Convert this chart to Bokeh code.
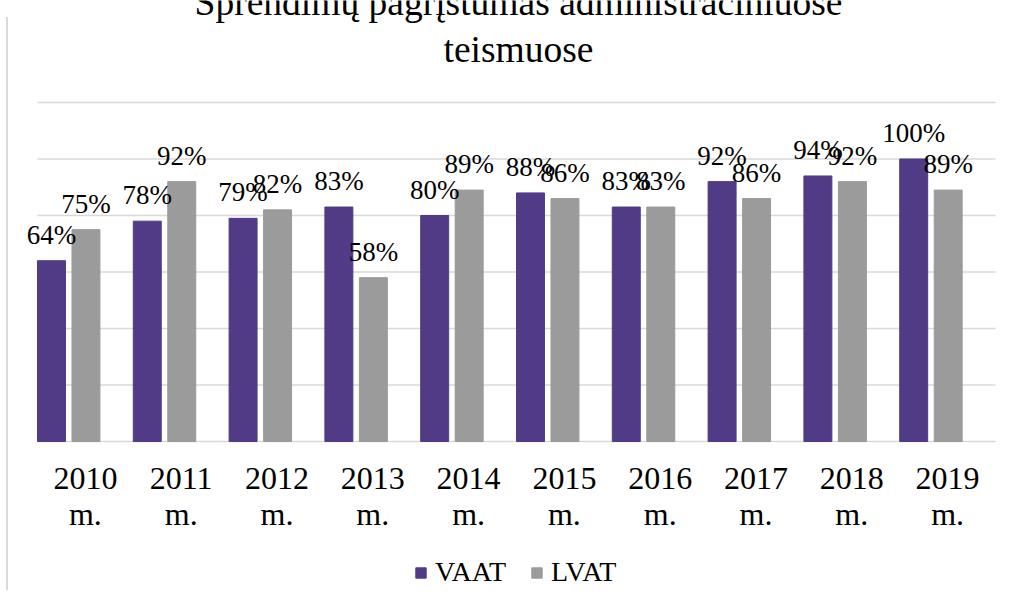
from bokeh.plotting import figure
from bokeh.models import (ColumnDataSource, FactorRange, Range1d, Label,
                          Legend, LegendItem)
from bokeh.transform import dodge
from bokeh.core.properties import value
from bokeh.embed import file_html
from bokeh.resources import INLINE

years = ["2010 m.", "2011 m.", "2012 m.", "2013 m.", "2014 m.",
         "2015 m.", "2016 m.", "2017 m.", "2018 m.", "2019 m."]
vaat = [0.64, 0.78, 0.79, 0.83, 0.80, 0.88, 0.83, 0.92, 0.94, 1.00]
lvat = [0.75, 0.92, 0.82, 0.58, 0.89, 0.86, 0.83, 0.86, 0.92, 0.89]
series_names = ["VAAT", "LVAT"]
title_lines = ["Sprendimų pagrįstumas administraciniuose", "teismuose"]
grid_ticks = [0, 0.2, 0.4, 0.6, 0.8, 1.0, 1.2]

PURPLE = "#513B87"
GRAY = "#9B9B9B"
GRID = "#D9D9D9"
FONT = "Liberation Serif"

src = ColumnDataSource(dict(
    cat=years,
    vaat=vaat,
    lvat=lvat,
    vaat_lbl=[f"{round(v*100)}%" for v in vaat],
    lvat_lbl=[f"{round(v*100)}%" for v in lvat],
    tick1=[y.split(" ")[0] for y in years],
    tick2=[y.split(" ")[1] for y in years],
    zero=[0] * len(years),
))
grid_src = ColumnDataSource(dict(
    y=grid_ticks,
    x0=[years[0]] * len(grid_ticks),
    x1=[years[-1]] * len(grid_ticks),
))

p = figure(width=1009, height=590, output_backend="svg", toolbar_location=None,
           x_range=FactorRange(factors=years, range_padding=0.146,
                               range_padding_units="absolute"),
           y_range=Range1d(-0.5274, 1.5611),
           min_border_left=23, min_border_right=0,
           min_border_top=0, min_border_bottom=0)
p.outline_line_color = None
p.background_fill_color = "white"
p.border_fill_color = None
p.title.visible = False
p.xaxis.visible = False
p.yaxis.visible = False
p.xgrid.grid_line_color = None
p.ygrid.grid_line_color = None
p.styles = {
    "background-color": "white",
    "background-image": "linear-gradient(#D9D9D9, #D9D9D9)",
    "background-size": "2px 573px",
    "background-position": "6px 17px",
    "background-repeat": "no-repeat",
}

# horizontal gridlines spanning the category band
p.segment(x0=dodge("x0", -0.5, range=p.x_range), x1=dodge("x1", 0.5, range=p.x_range),
          y0="y", y1="y", source=grid_src, line_color=GRID, line_width=1.5)

r1 = p.vbar(x=dodge("cat", -0.354, range=p.x_range), top="vaat", width=0.292,
            source=src, fill_color=PURPLE, line_color=PURPLE)
r2 = p.vbar(x=dodge("cat", 0.006, range=p.x_range), top="lvat", width=0.292,
            source=src, fill_color=GRAY, line_color=GRAY)

for off, col in [(-0.354, "vaat"), (0.006, "lvat")]:
    p.text(x=dodge("cat", off, range=p.x_range), y=col, text=col + "_lbl", source=src,
           text_align="center", text_baseline="alphabetic", y_offset=-26,
           text_font=value(FONT), text_font_size="27px", text_color="black")

# category labels (two lines) under the baseline
p.text(x="cat", y="zero", text="tick1", source=src, text_align="center",
       text_baseline="alphabetic", y_offset=37,
       text_font=value(FONT), text_font_size="32px", text_color="black")
p.text(x="cat", y="zero", text="tick2", source=src, text_align="center",
       text_baseline="alphabetic", y_offset=72,
       text_font=value(FONT), text_font_size="32px", text_color="black")

legend = Legend(items=[LegendItem(label=series_names[0], renderers=[r1]),
                       LegendItem(label=series_names[1], renderers=[r2])],
                orientation="horizontal", location=(391, 2),
                glyph_width=13, glyph_height=13, label_standoff=8, spacing=24,
                padding=0, margin=0, border_line_color=None,
                background_fill_alpha=0,
                label_text_font=FONT, label_text_font_size="28px",
                label_text_color="black")
p.add_layout(legend, "center")

title_y = [588, 541]
for txt, ty in zip(title_lines, title_y):
    p.add_layout(Label(x=495, y=ty, x_units="screen", y_units="screen",
                       text=txt, text_align="center", text_baseline="alphabetic",
                       text_font=FONT, text_font_size="37.5px", text_color="black"))

open("out.html", "w").write(file_html(p, INLINE))
